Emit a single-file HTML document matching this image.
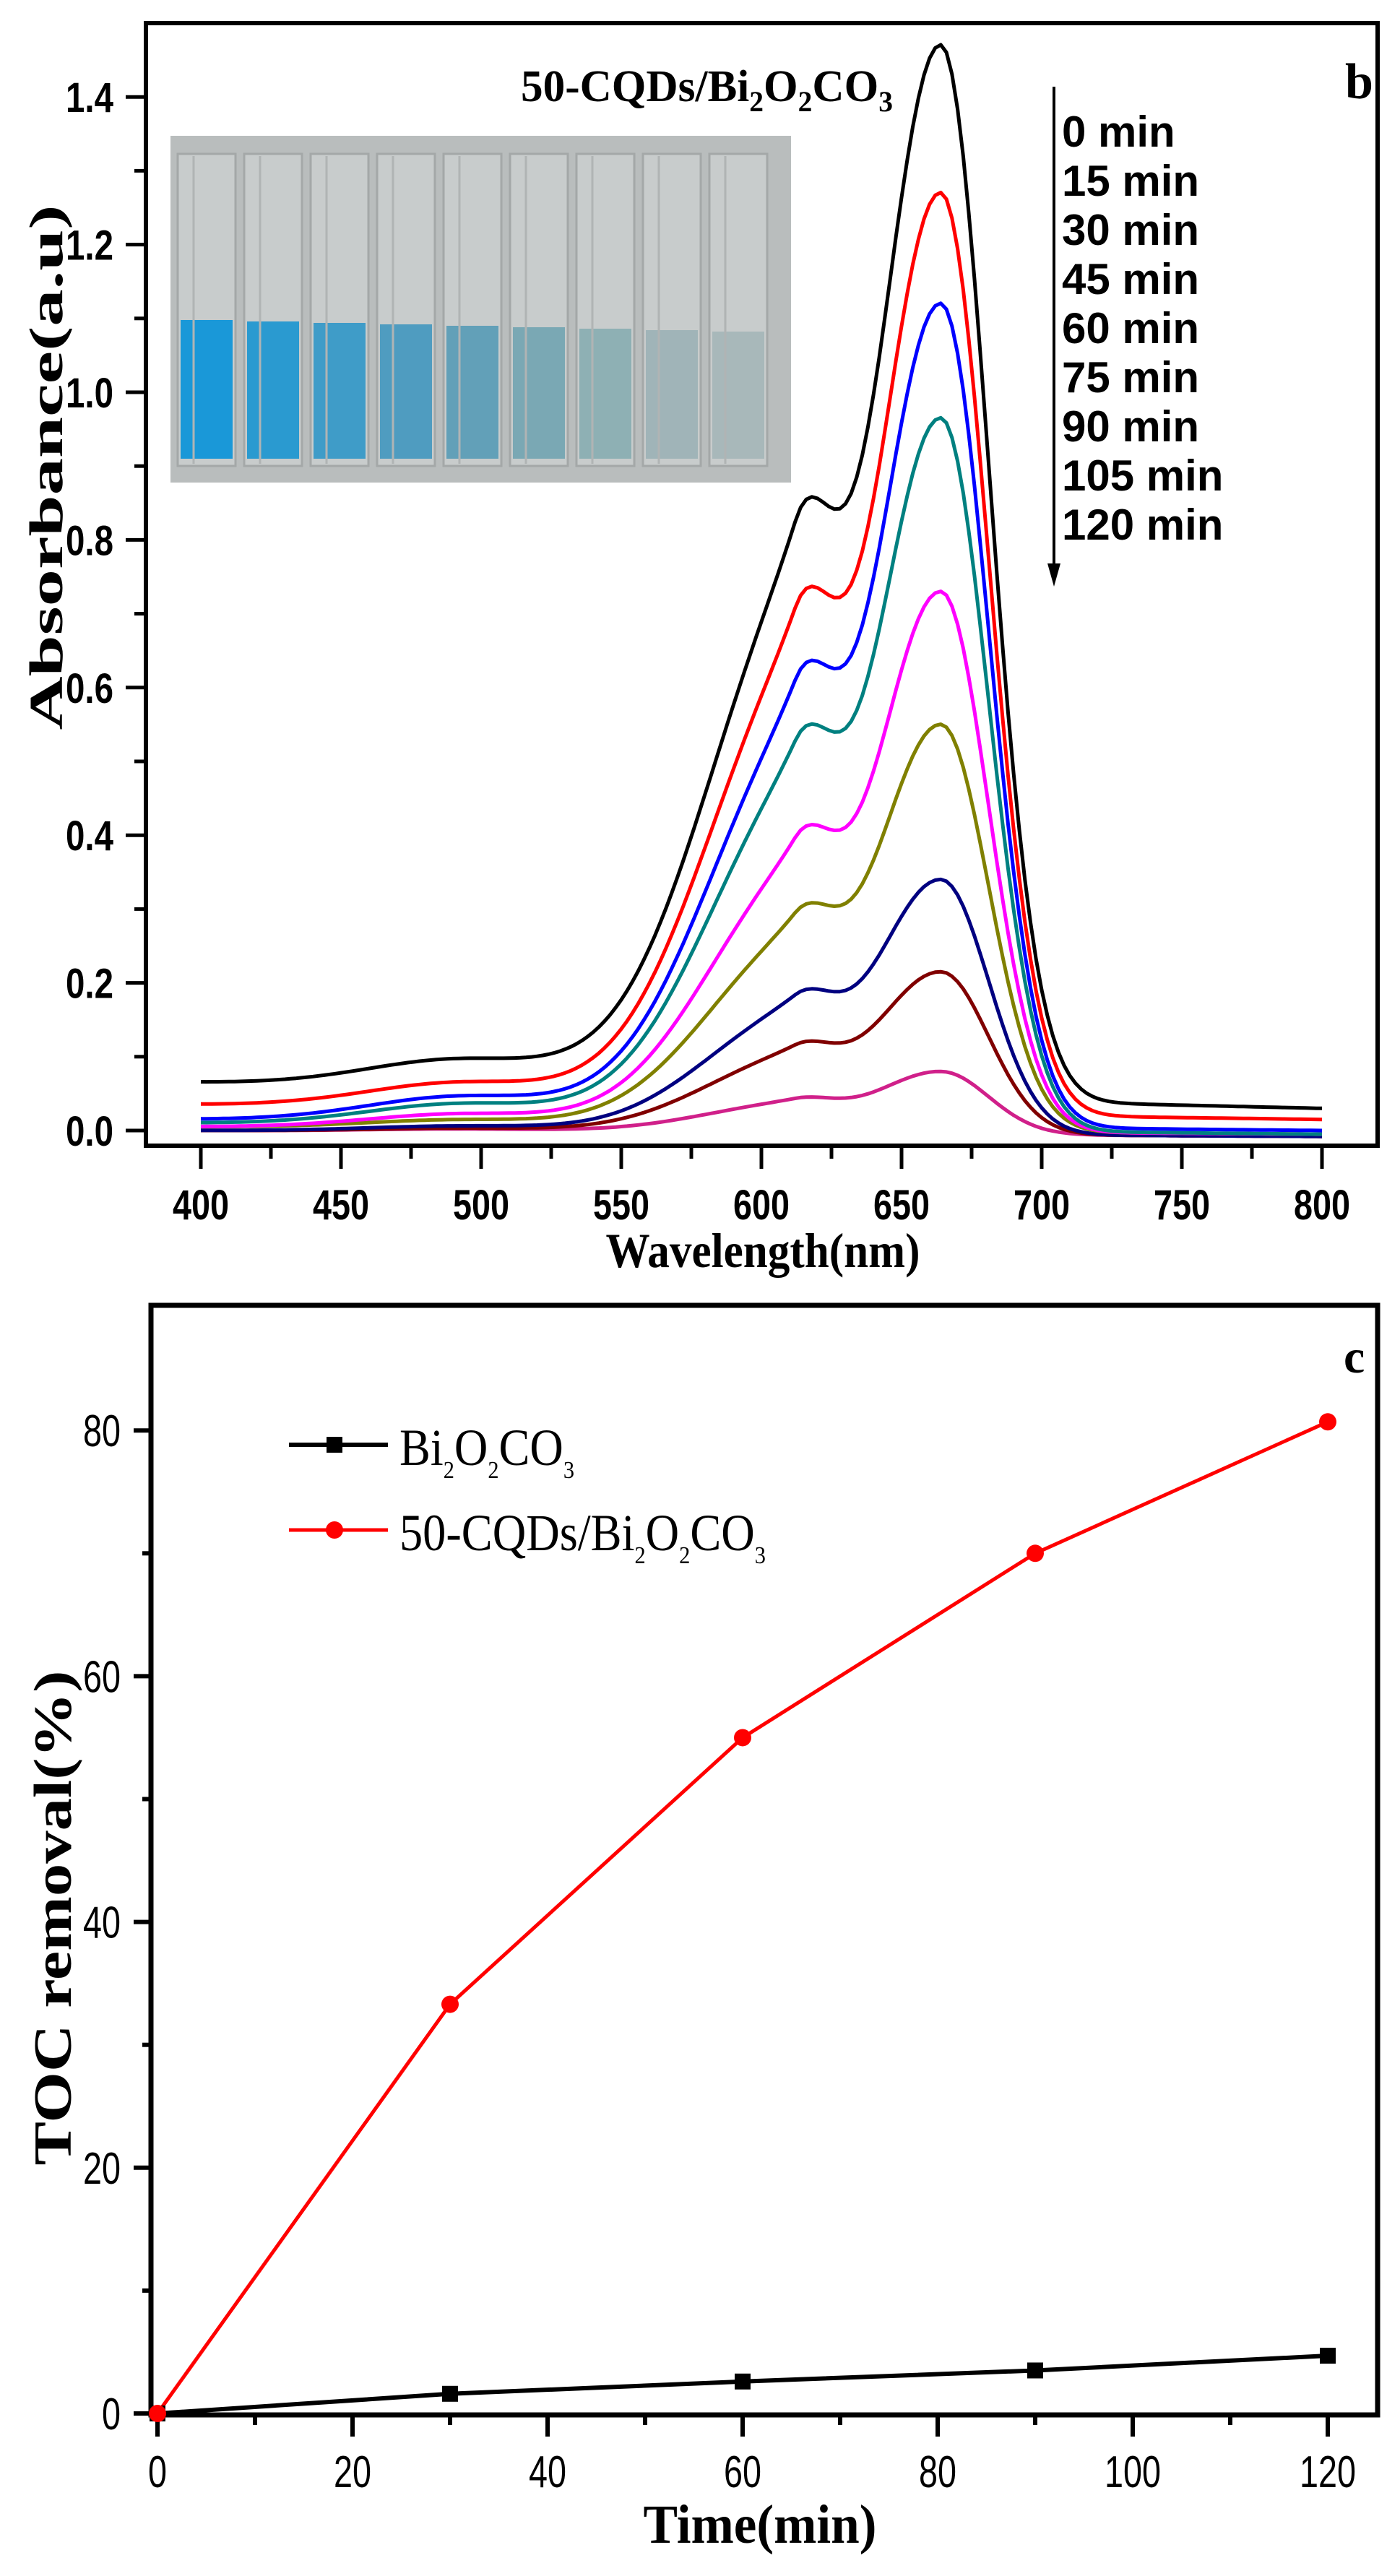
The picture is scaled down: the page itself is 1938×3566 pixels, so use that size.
<!DOCTYPE html>
<html><head><meta charset="utf-8"><style>
html,body{margin:0;padding:0;background:#fff;}
svg{display:block;}
</style></head><body>
<svg id="s" width="1938" height="3566" viewBox="0 0 1938 3566" xmlns="http://www.w3.org/2000/svg">
<rect width="1938" height="3566" fill="#fff"/>
<g id="photo">
<rect x="236" y="188" width="859" height="480" fill="#b9bdbd"/>
</g>
<g id="curves" fill="none" stroke-width="5" stroke-linejoin="round"></g>
<rect x="202" y="32" width="1705" height="1554" fill="none" stroke="#000" stroke-width="6"/>
<g id="topticks" stroke="#000" stroke-width="5"></g>
<g font-family="Liberation Sans, sans-serif" font-weight="bold" font-size="58" fill="#000" id="toplabels"></g>
<text x="1056" y="1754" text-anchor="middle" font-family="Liberation Serif, serif" font-weight="bold" font-size="68" textLength="435" lengthAdjust="spacingAndGlyphs">Wavelength(nm)</text>
<text transform="translate(86,647) rotate(-90)" text-anchor="middle" font-family="Liberation Serif, serif" font-weight="bold" font-size="66" textLength="727" lengthAdjust="spacingAndGlyphs">Absorbance(a.u)</text>
<text x="721" y="140" font-family="Liberation Serif, serif" font-weight="bold" font-size="62" textLength="515" lengthAdjust="spacingAndGlyphs">50-CQDs/Bi<tspan font-size="40" dy="14">2</tspan><tspan dy="-14">O</tspan><tspan font-size="40" dy="14">2</tspan><tspan dy="-14">CO</tspan><tspan font-size="40" dy="14">3</tspan></text>
<text x="1862" y="136" font-family="Liberation Serif, serif" font-weight="bold" font-size="70">b</text>
<g font-family="Liberation Sans, sans-serif" font-weight="bold" font-size="60" fill="#000">
<text x="1470" y="203">0 min</text>
<text x="1470" y="271">15 min</text>
<text x="1470" y="339">30 min</text>
<text x="1470" y="407">45 min</text>
<text x="1470" y="475">60 min</text>
<text x="1470" y="543">75 min</text>
<text x="1470" y="611">90 min</text>
<text x="1470" y="679">105 min</text>
<text x="1470" y="747">120 min</text>
</g>
<line x1="1459" y1="120" x2="1459" y2="790" stroke="#000" stroke-width="4"/>
<polygon points="1450,780 1468,780 1459,812" fill="#000"/>

<rect x="209" y="1807" width="1698" height="1536" fill="none" stroke="#000" stroke-width="7"/>
<g id="botticks" stroke="#000" stroke-width="6"></g>
<g font-family="Liberation Sans, sans-serif" font-size="62" fill="#000" id="botlabels"></g>
<text x="1052" y="3520" text-anchor="middle" font-family="Liberation Serif, serif" font-weight="bold" font-size="76" textLength="323" lengthAdjust="spacingAndGlyphs">Time(min)</text>
<text transform="translate(98,2655) rotate(-90)" text-anchor="middle" font-family="Liberation Serif, serif" font-weight="bold" font-size="74" textLength="685" lengthAdjust="spacingAndGlyphs">TOC removal(%)</text>
<text x="1860" y="1900" font-family="Liberation Serif, serif" font-weight="bold" font-size="66">c</text>
<line x1="400" y1="2000" x2="537" y2="2000" stroke="#000" stroke-width="6"/>
<rect x="452" y="1989" width="22" height="22" fill="#000"/>
<line x1="400" y1="2118" x2="537" y2="2118" stroke="#f00" stroke-width="5"/>
<circle cx="463" cy="2118" r="12" fill="#f00"/>
<g font-family="Liberation Serif, serif" font-size="72" fill="#000">
<text x="553" y="2028" textLength="242" lengthAdjust="spacingAndGlyphs">Bi<tspan font-size="34" dy="18">2</tspan><tspan dy="-18">O</tspan><tspan font-size="34" dy="18">2</tspan><tspan dy="-18">CO</tspan><tspan font-size="34" dy="18">3</tspan></text>
<text x="553" y="2146" textLength="507" lengthAdjust="spacingAndGlyphs">50-CQDs/Bi<tspan font-size="34" dy="18">2</tspan><tspan dy="-18">O</tspan><tspan font-size="34" dy="18">2</tspan><tspan dy="-18">CO</tspan><tspan font-size="34" dy="18">3</tspan></text>
</g>
<g id="series"></g>
</svg>
<script>
var NS="http://www.w3.org/2000/svg";
function el(p,t,a,txt){var e=document.createElementNS(NS,t);for(var k in a)e.setAttribute(k,a[k]);if(txt!==undefined)e.textContent=txt;document.getElementById(p).appendChild(e);return e;}
var liq=["#1a98d8","#2a9ad0","#3f9cc8","#4f9cc0","#62a0b8","#7aa8b4","#8eb0b4","#a0b4b8","#a8b8ba"];
for(var i=0;i<9;i++){var x=246+i*92;
el("photo","rect",{x:x,y:213,width:80,height:432,fill:"#c8cccc",stroke:"#a4a8a8","stroke-width":3});
el("photo","rect",{x:x+4,y:443+i*2,width:72,height:192-i*2,fill:liq[i]});
el("photo","line",{x1:x+22,y1:216,x2:x+22,y2:642,stroke:"#b0b4b4","stroke-width":3});
}
function X(l){return 278+(l-400)*3.88;}
function Y(a){return 1565-a*1022;}
for(var l=400;l<=800;l+=25){var maj=(l%50==0);el("topticks","line",{x1:X(l),y1:1586,x2:X(l),y2:1586+(maj?32:18)});
if(maj)el("toplabels","text",{x:X(l),y:1688,"text-anchor":"middle",textLength:78,lengthAdjust:"spacingAndGlyphs"},String(l));}
for(var k=0;k<=14;k++){var a=k/10;var maj=(k%2==0);el("topticks","line",{x1:202,y1:Y(a),x2:202-(maj?28:16),y2:Y(a)});
if(maj)el("toplabels","text",{x:157,y:Y(a)+21,"text-anchor":"end",textLength:66,lengthAdjust:"spacingAndGlyphs"},a.toFixed(1));}
var P=[1.47,1.27,1.12,0.965,0.73,0.55,0.34,0.215,0.08];
var S=[0.85,0.73,0.63,0.545,0.41,0.305,0.19,0.12,0.045];
var B0=[0.065,0.035,0.015,0.01,0.005,0.005,0,0,0];
var B1=[0.03,0.015,0.0,-0.005,-0.005,-0.005,-0.008,-0.008,-0.008];
var H=[0.04,0.035,0.035,0.03,0.02,0.012,0.008,0.005,0.004];
var C=["#000","#f00","#00f","#008080","#f0f","#808000","#000080","#800000","#d0208a"];
function g(x,c,sl,sr){var s=x<c?sl:sr;return Math.exp(-(x-c)*(x-c)/(2*s*s));}
for(var i=8;i>=0;i--){
 var d="";
 var base615=B0[i]+(B1[i]-B0[i])*215/400;
 var base664=B0[i]+(B1[i]-B0[i])*264/400;
 var pk=P[i]-base664;
 var sh=(S[i]-base615-pk*g(615,664,24,17))/g(615,612,33,14);
 for(var l=400;l<=800;l+=2){
  var base=B0[i]+(B1[i]-B0[i])*(l-400)/400;
  var hump=H[i]*g(l,495,35,40);
  var a=base+hump+pk*g(l,664,24,17)+sh*g(l,612,33,14);
  d+=(l==400?"M":"L")+X(l).toFixed(1)+","+Y(a).toFixed(1);
 }
 el("curves","path",{d:d,stroke:C[i]});
}
function TX(t){return 218+t*13.5;}
function TY(v){return 3341-v*17.01;}
for(var t=0;t<=120;t+=10){var maj=(t%20==0);el("botticks","line",{x1:TX(t),y1:3343,x2:TX(t),y2:3343+(maj?30:14)});
if(maj){var w=t>=100?78:(t>0?52:26);el("botlabels","text",{x:TX(t),y:3443,"text-anchor":"middle",textLength:w,lengthAdjust:"spacingAndGlyphs"},String(t));}}
for(var v=0;v<=80;v+=10){var maj=(v%20==0);el("botticks","line",{x1:209,y1:TY(v),x2:209-(maj?24:12),y2:TY(v)});
if(maj){var w=v>0?52:26;el("botlabels","text",{x:167,y:TY(v)+22,"text-anchor":"end",textLength:w,lengthAdjust:"spacingAndGlyphs"},String(v));}}
var tt=[0,30,60,90,120],red=[0,33.3,55,70,80.7],blk=[0,1.6,2.6,3.5,4.7];
var dr="",db="";
for(var i=0;i<5;i++){dr+=(i?"L":"M")+TX(tt[i])+","+TY(red[i]);db+=(i?"L":"M")+TX(tt[i])+","+TY(blk[i]);}
el("series","path",{d:db,fill:"none",stroke:"#000","stroke-width":6});
el("series","path",{d:dr,fill:"none",stroke:"#f00","stroke-width":5});
for(var i=0;i<5;i++){
 el("series","rect",{x:TX(tt[i])-11,y:TY(blk[i])-11,width:22,height:22,fill:"#000"});
 el("series","circle",{cx:TX(tt[i]),cy:TY(red[i]),r:12,fill:"#f00"});
}
</script>
</body></html>
